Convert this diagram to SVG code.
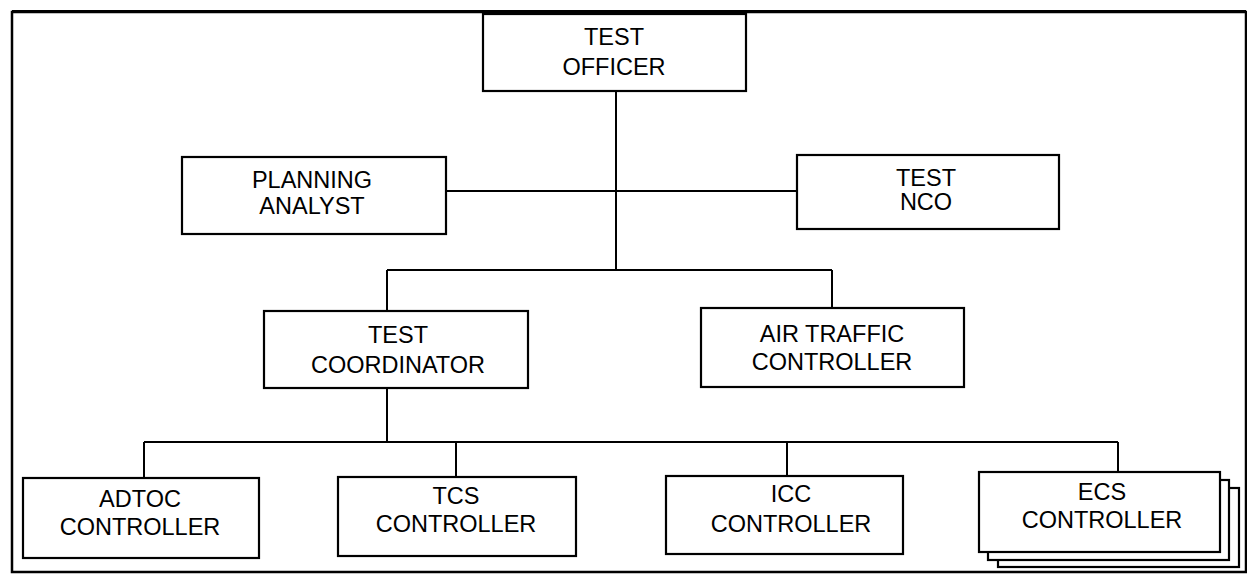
<svg xmlns="http://www.w3.org/2000/svg" width="1247" height="575" viewBox="0 0 1247 575">
<style>
.box{fill:#fff;stroke:#000;stroke-width:2.2}
.ln{fill:none;stroke:#000;stroke-width:2}
text{font-family:"Liberation Sans",Arial,sans-serif;font-size:23.5px;fill:#000;text-anchor:middle}
</style>
<rect x="0" y="0" width="1247" height="575" fill="#fff"/>
<rect x="12" y="12" width="1234" height="560" fill="none" stroke="#000" stroke-width="2.5"/>
<line x1="12" y1="11.5" x2="1246" y2="11.5" stroke="#000" stroke-width="3"/>
<g id="connectors">
<path class="ln" d="M616 91 V270"/>
<path class="ln" d="M446 191 H798"/>
<path class="ln" d="M387 270 H832 M387 270 V311 M832 270 V308"/>
<path class="ln" d="M387 388 V442"/>
<path class="ln" d="M144 442 H1118 M144 442 V478 M456 442 V477 M787 442 V476 M1118 442 V472"/>
</g>
<g id="test-officer">
<rect class="box" x="483" y="14" width="263" height="77"/>
<text x="614" y="45">TEST</text>
<text x="614" y="75">OFFICER</text>
</g>
<g id="planning-analyst">
<rect class="box" x="182" y="157" width="264" height="77"/>
<text x="312" y="188">PLANNING</text>
<text x="312" y="214">ANALYST</text>
</g>
<g id="test-nco">
<rect class="box" x="797" y="155" width="262" height="74"/>
<text x="926" y="186">TEST</text>
<text x="926" y="210">NCO</text>
</g>
<g id="test-coordinator">
<rect class="box" x="264" y="311" width="264" height="77"/>
<text x="398" y="343">TEST</text>
<text x="398" y="373">COORDINATOR</text>
</g>
<g id="air-traffic-controller">
<rect class="box" x="701" y="308" width="263" height="79"/>
<text x="832" y="342">AIR TRAFFIC</text>
<text x="832" y="370">CONTROLLER</text>
</g>
<g id="adtoc-controller">
<rect class="box" x="23" y="478" width="236" height="80"/>
<text x="140" y="507">ADTOC</text>
<text x="140" y="535">CONTROLLER</text>
</g>
<g id="tcs-controller">
<rect class="box" x="338" y="477" width="238" height="79"/>
<text x="456" y="504">TCS</text>
<text x="456" y="532">CONTROLLER</text>
</g>
<g id="icc-controller">
<rect class="box" x="666" y="476" width="237" height="78"/>
<text x="791" y="502">ICC</text>
<text x="791" y="532">CONTROLLER</text>
</g>
<g id="ecs-controller">
<rect class="box" x="998" y="488" width="241" height="79"/>
<rect class="box" x="988" y="480" width="241" height="80"/>
<rect class="box" x="979" y="472" width="241" height="80"/>
<text x="1102" y="500">ECS</text>
<text x="1102" y="528">CONTROLLER</text>
</g>
</svg>
